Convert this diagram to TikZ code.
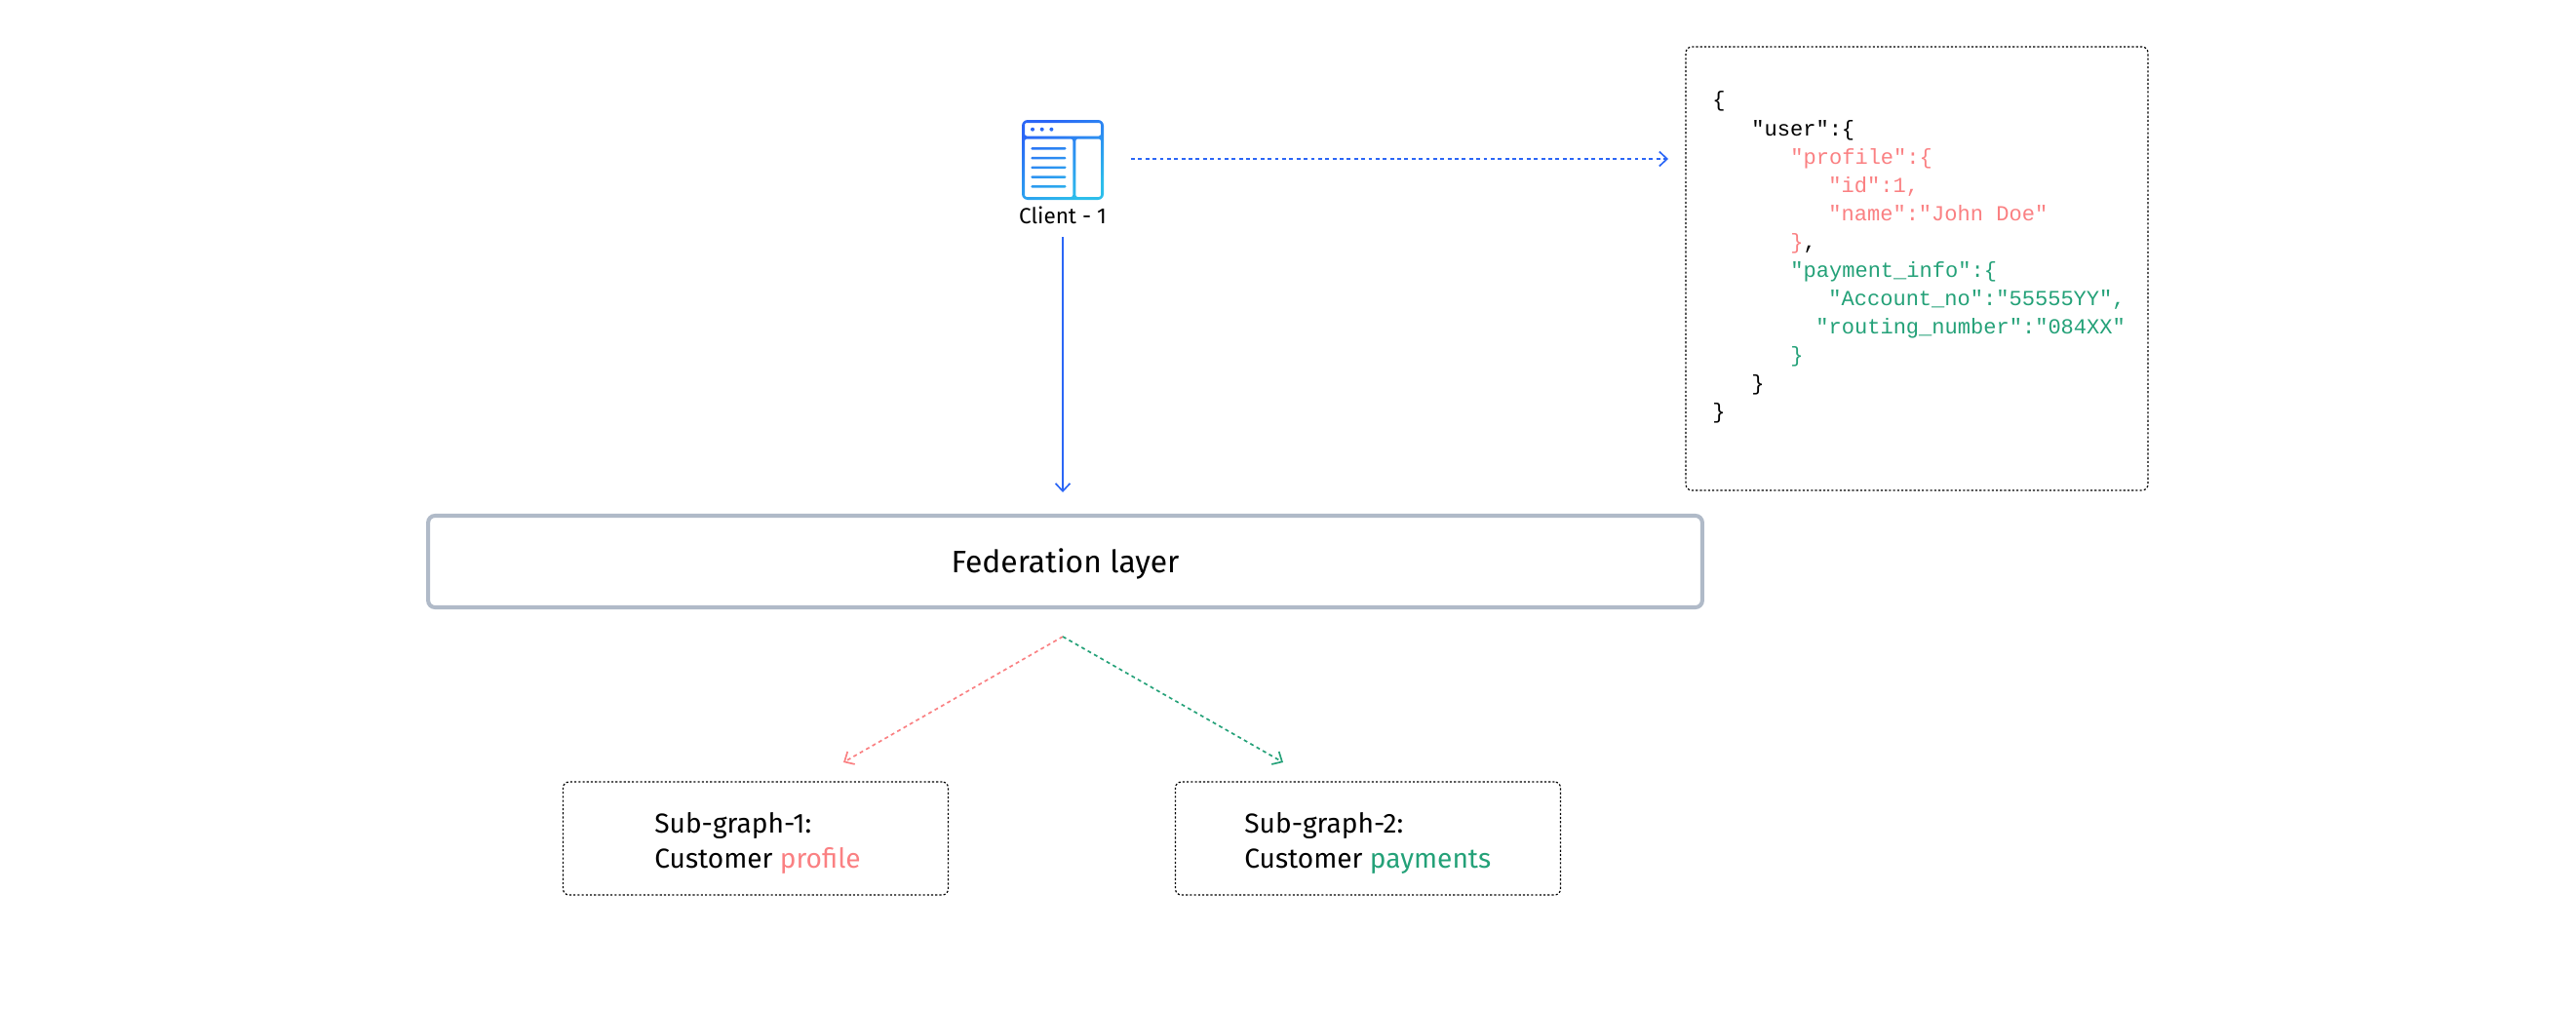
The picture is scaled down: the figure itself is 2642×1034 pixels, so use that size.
\documentclass[tikz,border=0pt]{standalone}
\usepackage{fontspec}
\usepackage{tikz}
\usetikzlibrary{arrows.meta}
\setmainfont{Fira Sans}
\newfontfamily\jsonfont{Liberation Mono}
\definecolor{B}{RGB}{43,102,246}
\definecolor{C}{RGB}{45,190,235}
\definecolor{P}{RGB}{250,128,130}
\definecolor{G}{RGB}{36,161,120}
\definecolor{F}{RGB}{176,186,200}
\newcommand{\jsonline}[5]{\node[anchor=base west,inner sep=0pt,text=#4,font=\jsonfont\fontsize{12.55}{15}\selectfont] (#1) at (#2,#3) {#5};}
\tikzset{
  dottedbox/.style={draw,line width=.7pt,dash pattern=on 1.2pt off 1.2pt,rounded corners=.12cm,minimum width=7.9cm,minimum height=2.32cm,inner sep=0pt},
  subtext/.style={anchor=west,inner sep=0pt,align=left,font=\fontsize{16}{20}\selectfont},
  tip/.style={-{Straight Barb[length=.16cm,width=.3cm,line width=.95pt]}},
  dashline/.style={tip,line width=.95pt,dash pattern=on 2.2pt off 2pt}
}
\begin{document}
\begin{tikzpicture}[x=.02cm,y=-.02cm]
\useasboundingbox (0,0) rectangle (2642,1034);
% client icon, one shaded path
\shade[even odd rule,top color=B,bottom color=C,shading angle=30]
  [rounded corners=.12cm] (1048,123) rectangle (1132,205)
  [rounded corners=.04cm] (1051,126) rectangle (1129,139.5)
  (1051,142.5) rectangle (1100.3,202) (1103.3,142.5) rectangle (1129,202)
  [rounded corners=0pt] (1059,132.7) circle (2) (1068.7,132.7) circle (2) (1078.4,132.7) circle (2)
  [rounded corners=.025cm]
  (1057.3,151) rectangle (1093.5,153.6) (1057.3,160.8) rectangle (1093.5,163.4) (1057.3,170.5) rectangle (1093.5,173.1)
  (1057.3,180.3) rectangle (1093.5,182.9) (1057.3,190) rectangle (1093.5,192.6);
\node[inner sep=0pt,font=\fontsize{12.8}{15}\selectfont] (clientlabel) at (1090,221) {Client - 1};
\coordinate (clientbottom) at (1090,243);
\coordinate (fedtop) at (1090,505);
\coordinate (clientright) at (1160,163);
\coordinate (jsonleft) at (1711,163);
\coordinate (split) at (1090,653);
\coordinate (profiletip) at (865,782);
\coordinate (paymenttip) at (1316,782);
% boxes
\node[draw=F,line width=2.3pt,rounded corners=.14cm,minimum width=26.14cm,minimum height=1.88cm,inner sep=0pt,font=\fontsize{18.1}{20}\selectfont] (federation) at (1092.5,576) {\raisebox{-.22cm}[0pt][0pt]{Federation layer}};
\node[dottedbox,minimum width=9.48cm,minimum height=9.1cm] (jsonbox) at (1966,275.5) {};
\node[dottedbox] (subone) at (775,860) {};
\node[dottedbox] (subtwo) at (1403,860) {};
\node[subtext] (subonetext) at (671,865) {Sub-graph-1:\\Customer \textcolor{P}{profile}};
\node[subtext] (subtwotext) at (1276,865) {Sub-graph-2:\\Customer \textcolor{G}{payments}};
% connectors
\draw[tip,draw=B,line width=1.1pt] (clientbottom)--(fedtop);
\draw[dashline,draw=B] (clientright)--(jsonleft);
\draw[dashline,draw=P] (split)--(profiletip);
\draw[dashline,draw=G] (split)--(paymenttip);
% json lines
\jsonline{jsona}{1756}{110}{black}{\{}
\jsonline{jsonb}{1796}{139}{black}{"user":\{}
\jsonline{jsonc}{1836}{168}{P}{"profile":\{}
\jsonline{jsond}{1875}{197}{P}{"id":1,}
\jsonline{jsone}{1875}{226}{P}{"name":"John Doe"}
\jsonline{jsonf}{1836}{255}{P}{\}\textcolor{black}{,}}
\jsonline{jsong}{1836}{284}{G}{"payment\_info":\{}
\jsonline{jsonh}{1875}{313}{G}{"Account\_no":"55555YY",}
\jsonline{jsoni}{1862}{342}{G}{"routing\_number":"084XX"}
\jsonline{jsonj}{1836}{371}{G}{\}}
\jsonline{jsonk}{1796}{400}{black}{\}}
\jsonline{jsonl}{1756}{429}{black}{\}}
\end{tikzpicture}
\end{document}
